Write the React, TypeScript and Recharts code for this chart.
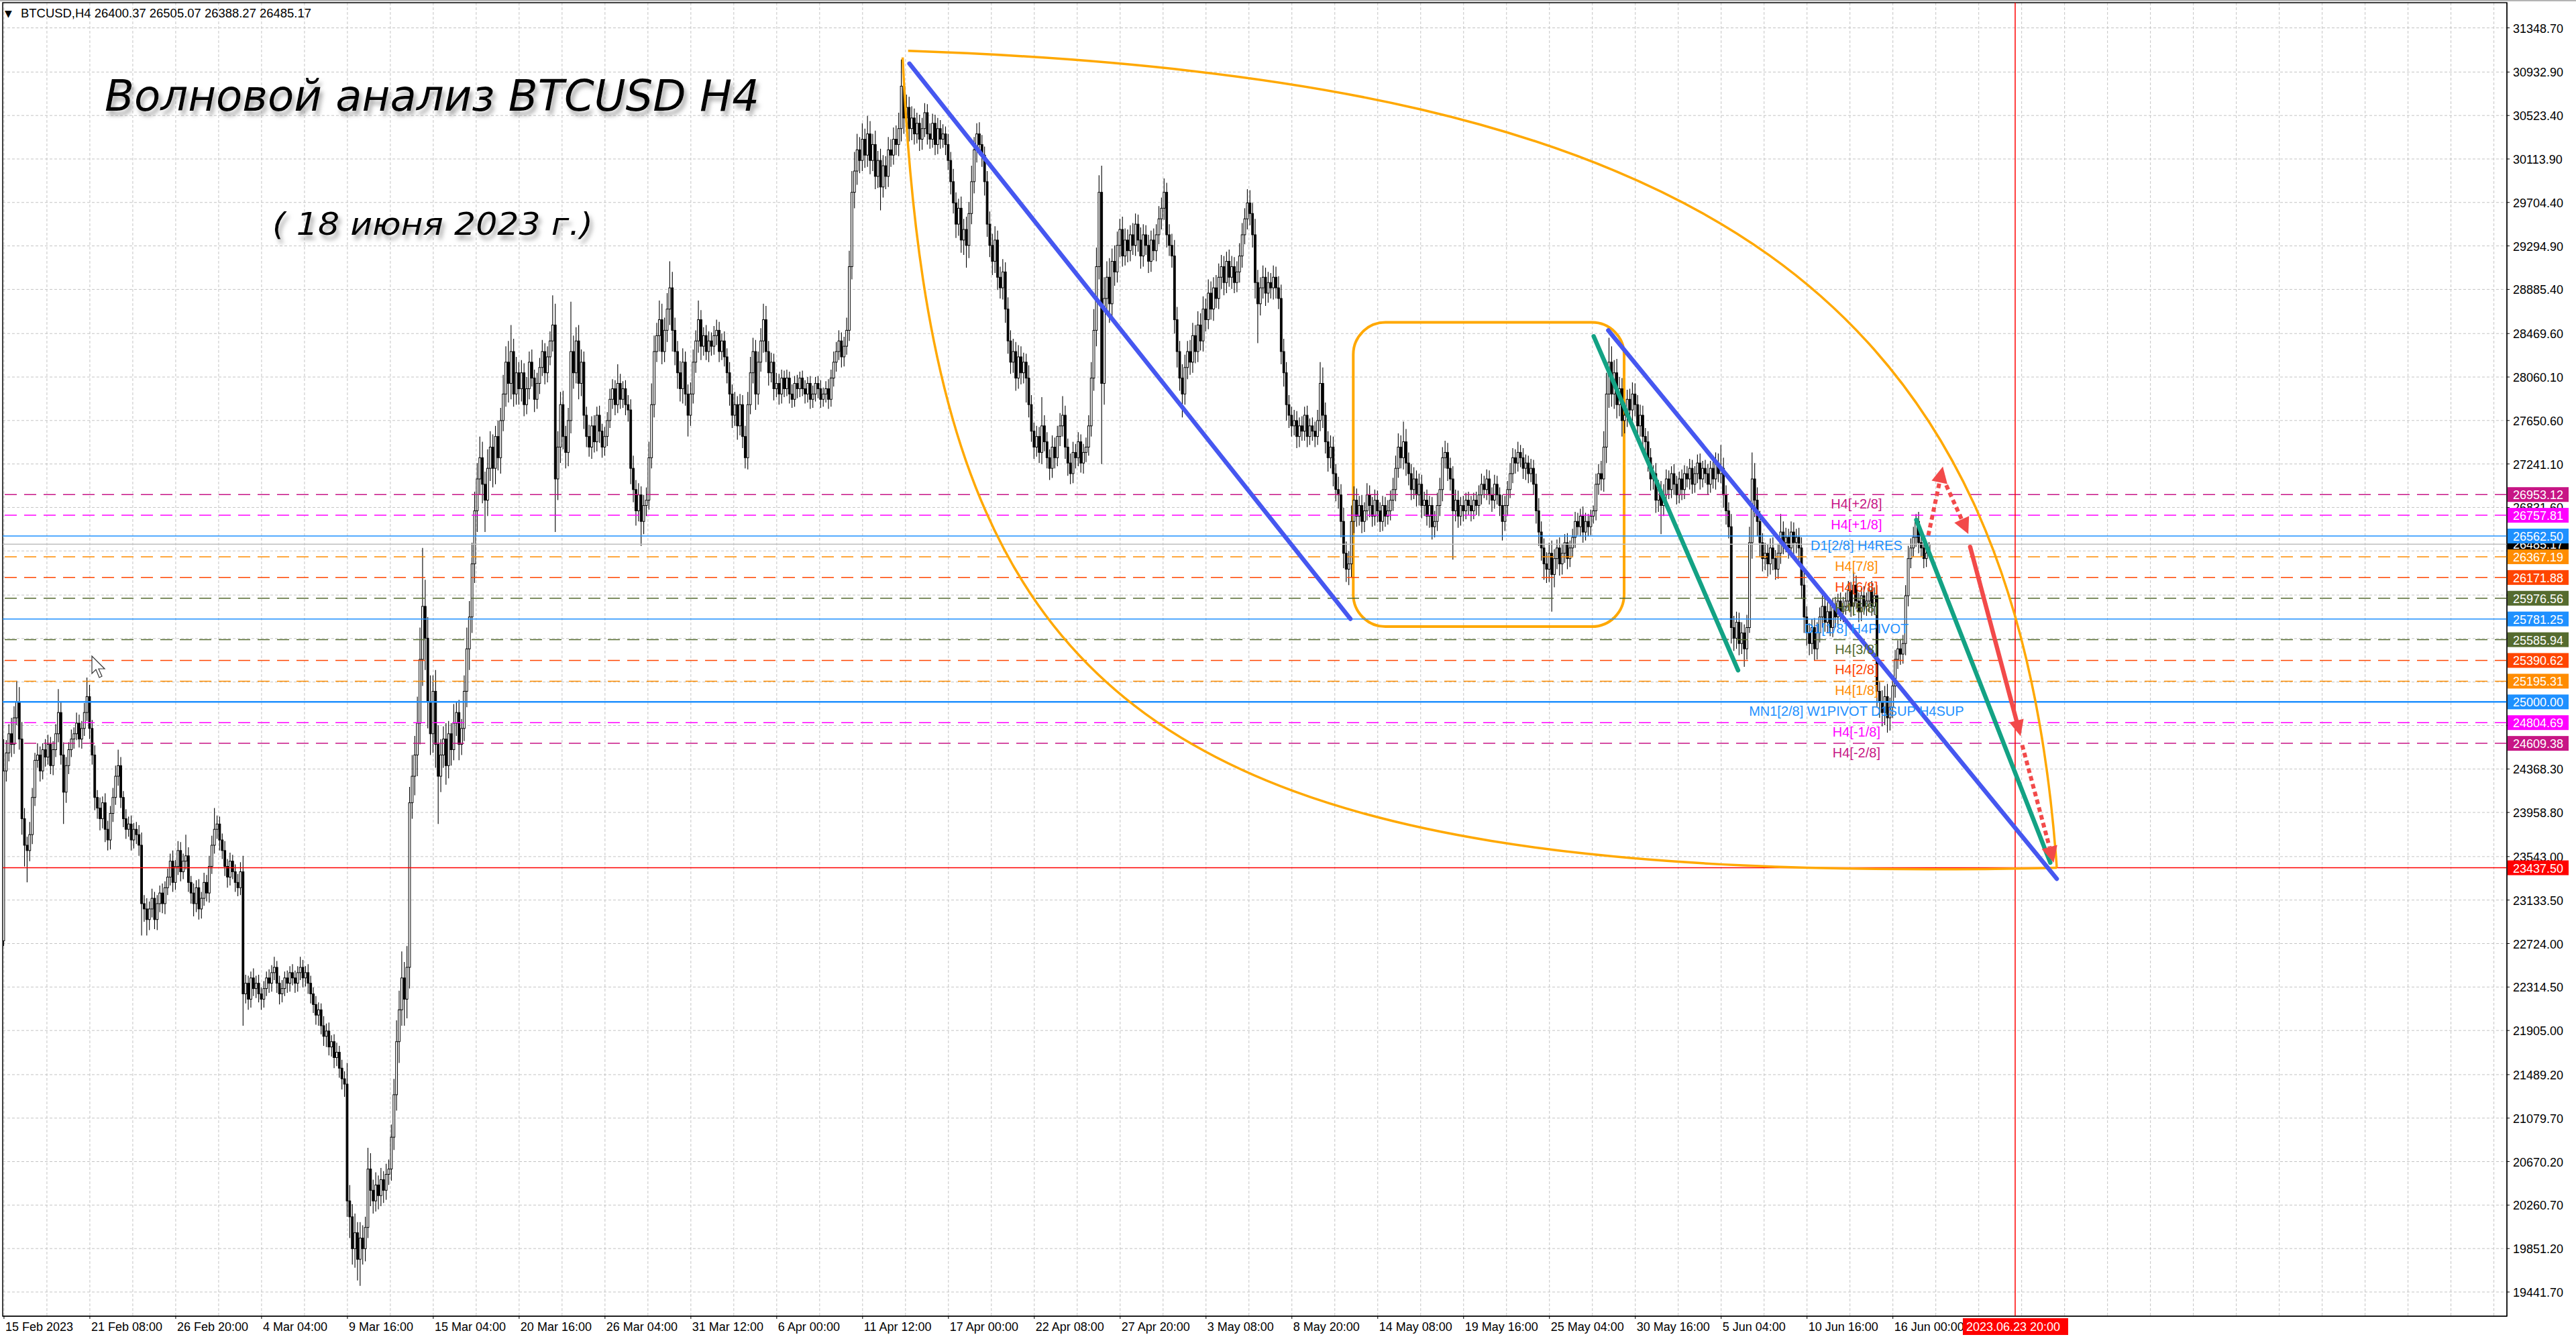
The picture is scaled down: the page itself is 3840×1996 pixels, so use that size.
import React from 'react';
import {
  ComposedChart,
  Bar,
  XAxis,
  YAxis,
  CartesianGrid,
  ReferenceLine,
  ReferenceArea,
  ReferenceDot,
} from 'recharts';

const W = 3840;
const H = 1996;
const FONT = '"Liberation Sans", Arial, sans-serif';

// H4 candles from 15 Feb 2023 20:00, each bar opens at the previous close
const firstOpen = 22750;
const closes = [
  24350, 24520, 24700, 24600, 24850, 25000, 24650, 23900, 23650, 23600,
  23750, 24100, 24450, 24500, 24350, 24550, 24480, 24600, 24400, 24550,
  24700, 24900, 24500, 24150, 24400, 24550, 24650, 24700, 24800, 24650,
  24750, 24900, 25050, 24750, 24500, 24100, 24000, 23900, 24050, 23800,
  23700, 23950, 24100, 24300, 24400, 24100, 23900, 23800, 23850, 23700,
  23800, 23750, 23650, 23100, 23050, 22950, 23050, 23150, 22950, 23100,
  23200, 23100, 23250, 23350, 23500, 23300, 23450, 23600, 23400, 23500,
  23550, 23300, 23200, 23100, 23250, 23050, 23150, 23300, 23200, 23450,
  23650, 23800, 23850, 23700, 23600, 23450, 23350, 23500, 23400, 23300,
  23250, 23400, 22250, 22350, 22200, 22400, 22300, 22350, 22250, 22200,
  22300, 22400, 22350, 22450, 22500, 22350, 22250, 22300, 22400, 22350,
  22450, 22400, 22350, 22450, 22500, 22400, 22450, 22350, 22250, 22150,
  22050, 22100, 21950, 21850, 21900, 21750, 21800, 21650, 21700, 21550,
  21450, 21400, 20300, 20150, 19850, 20000, 19750, 19950, 19850, 20050,
  20600, 20400, 20300, 20450, 20350, 20500, 20400, 20550, 20600, 20900,
  21300, 21800, 22100, 22400, 22200, 22500, 24050, 24300, 24500, 24800,
  25400, 25900, 25600, 25000, 24700, 25100, 24600, 24300, 24500, 24650,
  24400, 24700, 24550, 24800, 24900, 24600, 24750, 25100, 25500, 25800,
  26300, 26800, 27100, 27300, 27050, 26900, 27200, 27400, 27200, 27500,
  27300, 27650, 27900, 28200, 28000, 28300, 27900, 28100, 27950, 28100,
  27800, 27950, 28200, 28050, 27850, 28000, 28150, 28300, 28100, 28250,
  28400, 28550, 27100, 27400, 27800, 27500, 27350, 27650, 28300, 28100,
  28400, 28000, 28200, 27700, 27500, 27400, 27600, 27450, 27700, 27550,
  27400, 27500, 27650, 27850, 27950, 27800, 28000, 27850, 27950, 27800,
  27750, 27200, 27000, 26800, 26950, 26700, 26850, 26900, 27300, 27800,
  28300, 28450, 28600, 28300, 28500, 28700, 28900, 28500, 28300, 28100,
  27950, 28200, 27900, 27700, 27900, 28200, 28400, 28600, 28350, 28450,
  28300, 28400, 28350, 28450, 28500, 28300, 28400, 28250, 28100, 27900,
  27700, 27800, 27600, 27800, 27500, 27300, 27800, 28100, 28300, 27900,
  28200, 28400, 28600, 28300, 28100, 28200, 27950, 28000, 27900, 28050,
  27950, 28050, 27900, 27850, 28000, 27950, 28050, 27950, 27900, 28000,
  27850, 27900, 28000, 27950, 27850, 27900, 27950, 27850, 28050, 28200,
  28300, 28400, 28250, 28350, 28500, 29100, 29800, 30000, 30200, 30100,
  30300, 30150, 30350, 30100, 30250, 29950, 30100, 29850, 30050, 29950,
  30200, 30150, 30300, 30250, 30400, 30800, 30500, 30600, 30400, 30500,
  30350, 30450, 30300, 30400, 30550, 30350, 30300, 30450, 30250, 30400,
  30300, 30350, 30250, 30100, 29900, 29700, 29500, 29650, 29350, 29450,
  29300, 29600, 29900, 30200, 30350, 30250, 30150, 29900, 29500, 29300,
  29150, 29350, 29000, 28900, 29050, 28700, 28400, 28200, 28300, 28050,
  28250, 28100, 28200, 28050, 27800, 27550, 27400, 27500, 27350, 27600,
  27450, 27300, 27200, 27400, 27300, 27500, 27600, 27700, 27400, 27250,
  27150, 27350, 27300, 27450, 27250, 27350, 27400, 27600, 28050, 28500,
  29100, 29800, 28000, 28800, 29000, 28750, 29150, 29050, 29300, 29450,
  29200, 29350, 29250, 29400, 29300, 29500, 29350, 29200, 29400, 29300,
  29150, 29350, 29250, 29400, 29550, 29650, 29800, 29400, 29300, 29200,
  28600, 28300, 28050, 27900, 28150, 28300, 28200, 28450, 28300, 28550,
  28400, 28700, 28600, 28850, 28700, 28900, 28800, 29000, 29100, 28950,
  29150, 29000, 29100, 28950, 29050, 29200, 29400, 29550, 29700, 29600,
  29400, 28950, 28750, 28900, 29000, 28850, 28950, 28900, 29000, 28900,
  28800, 28300, 28100, 27800, 27700, 27600, 27650, 27500, 27600, 27550,
  27700, 27500, 27600, 27550, 27500, 27650, 28000, 27700, 27450, 27300,
  27400, 27150, 27000, 26950, 26700, 26400, 26250, 26300, 26700, 26900,
  26750, 26850, 26700, 26800, 26950, 26850, 26750, 26900, 26800, 26700,
  26850, 26750, 26800, 26900, 27000, 27200, 27400, 27300, 27450, 27250,
  27150, 27000, 27100, 26950, 27050, 26850, 26900, 26750, 26850, 26650,
  26700, 26850, 27000, 27300, 27350, 27200, 27100, 26800, 26900, 26750,
  26850, 26800, 26900, 26850, 26800, 26900, 26850, 26950, 27050, 27000,
  27100, 26950, 26900, 27050, 26950, 26850, 26700, 26850, 27000, 27150,
  27300, 27250, 27350, 27300, 27200, 27250, 27150, 27200, 27050, 26800,
  26600, 26450, 26300, 26250, 26400, 26200, 26350, 26450, 26300, 26400,
  26500, 26350, 26450, 26550, 26700, 26650, 26750, 26600, 26700, 26650,
  26750, 26800, 27050, 27150, 27100, 27400, 27900, 28200, 27900, 28100,
  27800, 27950, 27650, 27700, 27850, 27750, 27900, 27800, 27600, 27700,
  27500, 27450, 27300, 27100, 27150, 26900, 27000, 26850, 26950, 27100,
  27000, 27150, 27050, 26950, 27100, 27000, 27150, 27100, 27200, 27050,
  27150, 27250, 27100, 27200, 27150, 27050, 27200, 27100, 27250, 27150,
  27200, 26950, 26800, 26650, 25700, 25600, 25750, 25550, 25650, 25500,
  25700, 26500, 27100, 26900, 26700, 26500, 26350, 26400, 26300, 26450,
  26350, 26250, 26400, 26600, 26500, 26550, 26450, 26600, 26500, 26550,
  26450, 26100, 25800, 25650, 25550, 25700, 25500, 25650, 25800, 25900,
  25750, 25850, 25700, 25900, 25800, 25950, 25850, 25900, 25950, 26050,
  25900, 26100, 25950, 25850, 26000, 25900, 25950, 26050, 25900, 26000,
  25100, 25000, 24900, 25050, 24850, 24950, 25150, 25400, 25500, 25450,
  25550, 26000, 26350, 26450, 26550, 26700, 26500, 26450, 26350, 26400.37,
  26485.17,
];
const upWick = [
  300, 120, 90, 150, 110, 200, 140, 160, 100, 80,
  120, 90, 70, 110, 80, 60, 100, 90, 70, 80,
  90, 220, 100, 120, 80, 70, 90, 60, 100, 80,
  70, 90, 180, 110, 80, 90, 70, 100, 60, 90,
  80, 70, 90, 100, 150, 80, 60, 90, 70, 80,
  60, 70, 90, 120, 80, 100, 70, 90, 60, 80,
  70, 90, 60, 80, 70, 100, 60, 90, 80, 70,
  200, 80, 60, 90, 70, 80, 60, 90, 70, 100,
  90, 200, 80, 70, 60, 90, 70, 80, 60, 70,
  80, 90, 150, 80, 70, 60, 90, 70, 80, 60,
  70, 60, 80, 70, 100, 60, 70, 80, 60, 70,
  60, 80, 70, 60, 100, 70, 60, 80, 70, 60,
  80, 70, 60, 90, 70, 80, 60, 70, 90, 60,
  80, 70, 200, 150, 120, 180, 100, 150, 120, 100,
  200, 150, 100, 120, 90, 110, 80, 100, 90, 120,
  150, 200, 180, 250, 150, 200, 150, 200, 180, 250,
  300, 550, 250, 200, 250, 150, 200, 180, 150, 120,
  150, 120, 100, 180, 100, 120, 90, 150, 200, 150,
  200, 180, 150, 200, 150, 120, 180, 150, 120, 100,
  150, 120, 180, 150, 200, 250, 120, 150, 100, 120,
  90, 110, 100, 120, 80, 100, 90, 110, 80, 100,
  90, 280, 200, 150, 120, 130, 100, 120, 470, 150,
  130, 150, 120, 100, 80, 110, 90, 100, 80, 90,
  70, 90, 80, 100, 90, 80, 180, 90, 70, 80,
  90, 100, 120, 90, 110, 80, 100, 120, 150, 200,
  150, 120, 180, 150, 120, 150, 250, 150, 120, 100,
  110, 130, 100, 90, 110, 120, 100, 180, 90, 80,
  100, 90, 80, 90, 100, 80, 70, 90, 80, 100,
  90, 120, 80, 100, 90, 100, 120, 150, 130, 110,
  100, 120, 150, 130, 100, 90, 80, 100, 90, 80,
  70, 80, 60, 90, 70, 80, 60, 70, 80, 60,
  70, 80, 60, 70, 80, 60, 70, 90, 80, 100,
  90, 100, 80, 90, 120, 150, 200, 180, 150, 120,
  150, 100, 170, 120, 100, 130, 90, 110, 100, 90,
  120, 100, 110, 130, 150, 250, 150, 120, 100, 110,
  90, 100, 80, 100, 90, 80, 100, 90, 80, 100,
  80, 90, 70, 100, 80, 120, 100, 90, 110, 100,
  120, 110, 150, 120, 100, 110, 90, 80, 100, 120,
  110, 130, 90, 100, 120, 90, 110, 100, 120, 90,
  110, 100, 90, 80, 120, 90, 80, 100, 90, 270,
  100, 90, 80, 110, 90, 100, 120, 180, 90, 80,
  90, 100, 80, 90, 70, 80, 90, 100, 150, 200,
  180, 160, 250, 200, 150, 180, 120, 150, 130, 100,
  120, 110, 100, 90, 110, 100, 90, 120, 100, 90,
  100, 90, 110, 100, 120, 100, 130, 90, 100, 110,
  150, 120, 100, 130, 120, 100, 110, 120, 100, 130,
  110, 120, 100, 130, 110, 100, 120, 130, 110, 100,
  90, 110, 100, 90, 100, 120, 110, 100, 130, 120,
  100, 150, 120, 100, 110, 90, 100, 90, 110, 100,
  110, 130, 120, 100, 90, 80, 100, 90, 80, 90,
  80, 90, 70, 80, 90, 100, 200, 150, 120, 100,
  110, 100, 90, 120, 100, 130, 110, 120, 150, 130,
  110, 90, 100, 80, 110, 90, 80, 100, 90, 80,
  90, 80, 100, 90, 110, 120, 130, 110, 190, 120,
  100, 90, 110, 80, 100, 90, 80, 100, 90, 80,
  100, 120, 110, 100, 110, 90, 100, 120, 100, 90,
  80, 90, 70, 80, 90, 70, 80, 90, 100, 80,
  90, 80, 70, 90, 80, 70, 100, 90, 80, 100,
  90, 80, 100, 70, 90, 80, 70, 90, 80, 100,
  120, 100, 90, 110, 100, 120, 90, 80, 100, 90,
  80, 90, 70, 80, 90, 80, 70, 90, 80, 70,
  60, 50, 100, 90, 120, 150, 200, 230, 150, 120,
  130, 110, 100, 120, 90, 100, 110, 100, 90, 100,
  90, 80, 100, 90, 80, 100, 90, 80, 100, 90,
  80, 70, 90, 80, 70, 90, 80, 70, 90, 80,
  70, 80, 90, 70, 80, 90, 70, 80, 100, 90,
  220, 100, 90, 80, 120, 110, 100, 90, 100, 80,
  120, 150, 250, 150, 120, 100, 90, 100, 80, 90,
  100, 80, 90, 170, 100, 90, 80, 100, 90, 80,
  90, 100, 120, 100, 90, 80, 90, 100, 90, 100,
  80, 90, 70, 80, 90, 70, 80, 90, 80, 90,
  80, 130, 90, 80, 70, 90, 80, 70, 90, 80,
  100, 90, 110, 100, 120, 90, 100, 90, 80, 90,
  80, 100, 120, 90, 100, 70, 90, 80, 70, 80,
  19.9,
];
const downWick = [
  50, 100, 80, 120, 90, 70, 100, 150, 200, 300,
  100, 90, 80, 70, 100, 80, 90, 70, 80, 90,
  70, 80, 90, 300, 100, 80, 70, 90, 60, 80,
  90, 70, 80, 100, 90, 120, 100, 110, 90, 120,
  100, 90, 80, 70, 90, 100, 80, 90, 70, 100,
  80, 90, 100, 300, 120, 150, 100, 80, 90, 100,
  80, 90, 100, 70, 80, 90, 70, 80, 90, 70,
  80, 90, 100, 120, 80, 100, 90, 70, 80, 90,
  70, 80, 90, 100, 80, 90, 100, 80, 70, 90,
  80, 70, 300, 90, 100, 80, 70, 90, 80, 100,
  80, 70, 90, 80, 70, 90, 100, 80, 70, 90,
  80, 70, 90, 80, 70, 90, 80, 100, 90, 80,
  90, 100, 80, 90, 100, 80, 90, 100, 80, 90,
  100, 120, 150, 200, 150, 180, 200, 250, 150, 120,
  100, 150, 120, 100, 130, 100, 120, 90, 100, 110,
  120, 150, 200, 150, 250, 180, 200, 150, 180, 200,
  200, 250, 300, 250, 200, 180, 220, 450, 150, 120,
  180, 120, 150, 100, 120, 150, 100, 120, 150, 200,
  150, 180, 200, 150, 180, 300, 150, 120, 180, 150,
  120, 150, 100, 120, 180, 150, 120, 100, 150, 120,
  110, 90, 100, 80, 120, 90, 100, 80, 110, 90,
  80, 100, 500, 200, 150, 120, 150, 130, 120, 150,
  100, 150, 120, 130, 100, 90, 110, 100, 90, 110,
  100, 80, 90, 70, 90, 100, 80, 90, 80, 100,
  110, 150, 120, 140, 100, 230, 120, 100, 90, 100,
  120, 100, 150, 120, 100, 110, 150, 200, 130, 150,
  120, 140, 110, 200, 100, 90, 100, 110, 130, 90,
  80, 100, 90, 80, 90, 100, 80, 90, 100, 110,
  120, 100, 130, 90, 110, 100, 110, 90, 100, 150,
  100, 90, 110, 100, 120, 90, 110, 80, 100, 90,
  80, 70, 90, 80, 70, 90, 80, 70, 90, 80,
  90, 80, 70, 90, 80, 70, 80, 90, 70, 80,
  90, 80, 100, 90, 80, 100, 120, 150, 130, 120,
  100, 120, 110, 130, 100, 120, 110, 220, 100, 120,
  100, 110, 90, 100, 110, 120, 150, 100, 120, 110,
  100, 90, 110, 100, 80, 100, 90, 80, 100, 90,
  90, 80, 100, 90, 120, 100, 130, 110, 120, 140,
  210, 120, 100, 110, 120, 100, 110, 130, 120, 110,
  130, 110, 120, 100, 110, 130, 120, 110, 100, 120,
  100, 110, 100, 230, 120, 100, 110, 90, 100, 110,
  90, 100, 110, 90, 100, 80, 90, 100, 110, 120,
  100, 90, 100, 80, 90, 100, 90, 80, 100, 120,
  150, 120, 760, 200, 150, 180, 120, 130, 100, 110,
  100, 90, 110, 100, 90, 100, 110, 120, 100, 90,
  110, 100, 90, 100, 90, 100, 110, 120, 100, 110,
  130, 150, 120, 220, 100, 110, 120, 100, 110, 100,
  90, 100, 110, 90, 100, 110, 90, 100, 110, 120,
  100, 90, 110, 100, 90, 100, 110, 90, 100, 110,
  120, 150, 370, 110, 100, 120, 90, 100, 110, 100,
  100, 120, 130, 150, 120, 100, 90, 110, 100, 90,
  90, 100, 80, 90, 100, 80, 100, 120, 110, 130,
  100, 120, 110, 130, 150, 140, 120, 150, 130, 110,
  100, 90, 110, 100, 90, 110, 100, 90, 110, 100,
  90, 100, 80, 90, 100, 110, 90, 100, 110, 120,
  110, 100, 90, 110, 100, 120, 100, 90, 110, 120,
  100, 90, 100, 110, 100, 120, 110, 460, 100, 110,
  90, 100, 80, 90, 100, 80, 90, 100, 90, 80,
  100, 90, 110, 80, 90, 100, 180, 90, 100, 80,
  90, 100, 80, 90, 100, 110, 90, 80, 100, 120,
  130, 120, 150, 130, 120, 350, 120, 100, 110, 100,
  90, 100, 80, 90, 100, 80, 90, 100, 80, 90,
  80, 70, 90, 100, 110, 120, 150, 130, 120, 140,
  130, 110, 150, 120, 110, 100, 120, 110, 130, 100,
  110, 120, 130, 110, 100, 120, 110, 270, 100, 90,
  90, 80, 100, 90, 80, 100, 90, 80, 100, 90,
  80, 90, 100, 80, 90, 100, 80, 90, 100, 80,
  90, 120, 130, 110, 150, 120, 100, 110, 100, 170,
  100, 50, 150, 160, 140, 130, 120, 110, 120, 100,
  110, 100, 90, 100, 110, 90, 100, 90, 110, 100,
  110, 130, 150, 120, 110, 100, 110, 100, 90, 100,
  90, 100, 80, 90, 100, 80, 90, 100, 80, 90,
  100, 90, 80, 100, 90, 80, 90, 100, 90, 80,
  150, 150, 130, 120, 140, 120, 100, 110, 90, 100,
  90, 110, 100, 90, 80, 90, 100, 80, 90, 80,
  12.1,
];

// time axis: one label every 33 bars
const timeLabels = [
  '15 Feb 2023', '21 Feb 08:00', '26 Feb 20:00', '4 Mar 04:00', '9 Mar 16:00',
  '15 Mar 04:00', '20 Mar 16:00', '26 Mar 04:00', '31 Mar 12:00', '6 Apr 00:00',
  '11 Apr 12:00', '17 Apr 00:00', '22 Apr 08:00', '27 Apr 20:00', '3 May 08:00',
  '8 May 20:00', '14 May 08:00', '19 May 16:00', '25 May 04:00', '30 May 16:00',
  '5 Jun 04:00', '10 Jun 16:00', '16 Jun 00:00',
];
const futureBar = 773;
const futureLabel = '2023.06.23 20:00';

const priceTicks = [
  31348.7, 30932.9, 30523.4, 30113.9, 29704.4, 29294.9, 28885.4, 28469.6, 28060.1,
  27650.6, 27241.1, 26831.6, 26422.1, 26006.3, 25596.8, 25187.3, 24777.8, 24368.3,
  23958.8, 23543.0, 23133.5, 22724.0, 22314.5, 21905.0, 21489.2, 21079.7, 20670.2,
  20260.7, 19851.2, 19441.7,
];

// Murrey math levels
const levelValues = [
  26953.12, 26757.81, 26562.5, 26367.19, 26171.88, 25976.56, 25781.25,
  25585.94, 25390.62, 25195.31, 25000.0, 24804.69, 24609.38,
];
const levelNames = [
  'H4[+2/8]', 'H4[+1/8]', 'D1[2/8] H4RES', 'H4[7/8]', 'H4[6/8]', 'H4[5/8]',
  'D1[1/8] H4PIVOT', 'H4[3/8]', 'H4[2/8]', 'H4[1/8]', 'MN1[2/8] W1PIVOT D1SUP H4SUP',
  'H4[-1/8]', 'H4[-2/8]',
];
const levelColors = [
  '#C71585', '#FF00FF', '#1E90FF', '#FF8C00', '#FF4500', '#556B2F', '#1E90FF',
  '#556B2F', '#FF4500', '#FF8C00', '#1E90FF', '#FF00FF', '#C71585',
];
const levelLabelBar = 712;
const currentPrice = 26485.17;
const targetPrice = 23437.5;

// drawn objects, in (bar, price)
const blueLines = [
  [{ x: 348, y: 31012 }, { x: 517.5, y: 25782 }],
  [{ x: 616.6, y: 28500 }, { x: 789, y: 23334 }],
];
const greenLines = [
  [{ x: 611, y: 28444 }, { x: 666.5, y: 25298 }],
  [{ x: 735, y: 26714 }, { x: 786.5, y: 23486 }],
];
const redArrow = [{ x: 755.7, y: 26460 }, { x: 775.1, y: 24677 }];
const redDotted = [
  [{ x: 739.6, y: 26568 }, { x: 745.2, y: 27216 }],
  [{ x: 746.5, y: 27041 }, { x: 755, y: 26581 }],
  [{ x: 775.7, y: 24593 }, { x: 787.8, y: 23486 }],
];
const upperArc = [{ x: 347.5, y: 31132 }, { x: 789, y: 23437.5 }];
const lowerArc = [{ x: 345.4, y: 31070 }, { x: 789, y: 23437.5 }];
const boxBars = [518.6, 622.7];
const boxPrices = [25709, 28575];

const X_DOMAIN = [-0.5, 962];
const Y_DOMAIN = [19214, 31586];

const rows = closes.map((c, i) => {
  const o = i === 0 ? firstOpen : closes[i - 1];
  const h = Math.max(o, c) + upWick[i];
  const l = Math.min(o, c) - downWick[i];
  return { i, o, c, h, l, range: [l, h] };
});

const tagColor = new Map<number, string>([
  [currentPrice, '#000000'],
  ...levelValues.map((v, k) => [v, levelColors[k]] as [number, string]),
  [targetPrice, '#FF0000'],
]);
const gridBars = Array.from({ length: 59 }, (_, k) => k * 16.5);
const labelBars = timeLabels.map((_, k) => k * 33);

function Candle(props: any) {
  const { x, y, width, height, payload } = props;
  if (!payload || x == null) return null;
  const { o, c, h, l } = payload;
  const cx = x + width / 2;
  const top = Math.min(y, y + height);
  const bot = Math.max(y, y + height);
  const k = (bot - top) / (h - l || 1);
  const yo = top + (h - o) * k;
  const yc = top + (h - c) * k;
  const bt = Math.min(yo, yc);
  const bh = Math.max(Math.abs(yo - yc), 1);
  return (
    <g>
      <line x1={cx} x2={cx} y1={top} y2={bot} stroke="#000" strokeWidth={1.1} />
      <rect x={cx - 1.4} y={bt} width={2.8} height={bh} fill={c >= o ? '#fff' : '#000'} stroke="#000" strokeWidth={1} />
    </g>
  );
}

function XTick(props: any) {
  const { x, y, payload } = props;
  const v = payload.value;
  if (v === futureBar) {
    return (
      <g>
        <rect x={x - 78} y={y + 3} width={157} height={25} fill="#FF0000" />
        <text x={x - 73} y={y + 22} fill="#fff" fontSize={18} fontFamily={FONT}>{futureLabel}</text>
      </g>
    );
  }
  const k = labelBars.indexOf(v);
  if (k < 0) return null;
  return (
    <g>
      <line x1={x} x2={x} y1={y} y2={y + 4} stroke="#000" />
      <text x={x + 2} y={y + 22} fill="#000" fontSize={18} fontFamily={FONT}>{timeLabels[k]}</text>
    </g>
  );
}

function YTick(props: any) {
  const { x, y, payload } = props;
  const v = payload.value;
  const col = tagColor.get(v);
  if (col) {
    return (
      <g>
        <rect x={x + 1} y={y - 11} width={91} height={22} fill={col} />
        <text x={x + 9} y={y + 7} fill="#fff" fontSize={18} fontFamily={FONT}>{v.toFixed(2)}</text>
      </g>
    );
  }
  return (
    <g>
      <line x1={x} x2={x + 4} y1={y} y2={y} stroke="#000" />
      <text x={x + 9} y={y + 7} fill="#000" fontSize={18} fontFamily={FONT}>{v.toFixed(2)}</text>
    </g>
  );
}

function plainLine(color: string, width: number) {
  return (p: any) => (
    <line x1={p.x1} y1={p.y1} x2={p.x2} y2={p.y2} stroke={color} strokeWidth={width} strokeLinecap="round" />
  );
}

function arrowLine(color: string, width: number, dash: string | undefined, len: number, half: number) {
  return (p: any) => {
    const a = Math.atan2(p.y2 - p.y1, p.x2 - p.x1);
    const bx = p.x2 - len * Math.cos(a);
    const by = p.y2 - len * Math.sin(a);
    const s = Math.sin(a);
    const c = Math.cos(a);
    const pts = `${p.x2},${p.y2} ${bx + half * s},${by - half * c} ${bx - half * s},${by + half * c}`;
    return (
      <g>
        <line
          x1={p.x1}
          y1={p.y1}
          x2={bx}
          y2={by}
          stroke={color}
          strokeWidth={width}
          strokeDasharray={dash}
          strokeLinecap={dash ? 'butt' : 'round'}
        />
        <polygon points={pts} fill={color} />
      </g>
    );
  };
}

function arcShape(upper: boolean) {
  return (p: any) => {
    const dx = p.x2 - p.x1;
    const dy = p.y2 - p.y1;
    const c1 = upper ? [p.x1 + 0.7 * dx, p.y1 + 0.033 * dy] : [p.x1 + 0.026 * dx, p.y1 + 0.8 * dy];
    const c2 = upper ? [p.x2 - 0.035 * dx, p.y2 - 0.7 * dy] : [p.x2 - 0.8 * dx, p.y2 + 0.025 * dy];
    const d = `M${p.x1},${p.y1} C${c1[0]},${c1[1]} ${c2[0]},${c2[1]} ${p.x2},${p.y2}`;
    return <path d={d} fill="none" stroke="#FFA800" strokeWidth={3.5} />;
  };
}

const boxShape = (p: any) => (
  <rect x={p.x} y={p.y} width={p.width} height={p.height} rx={48} fill="none" stroke="#FFA800" strokeWidth={4} />
);
const frameShape = (p: any) => (
  <rect x={p.x} y={p.y} width={p.width} height={p.height} fill="none" stroke="#000" strokeWidth={1.5} />
);

function levelText(name: string, color: string) {
  return (p: any) => (
    <text x={p.cx} y={p.cy + 21} textAnchor="middle" fill={color} fontSize={20} fontFamily={FONT}>{name}</text>
  );
}

export default function App() {
  return (
    <div style={{ position: 'absolute', left: 0, top: 0, width: W, height: H, background: '#fff', overflow: 'hidden' }}>
      <ComposedChart width={W} height={H} data={rows} margin={{ top: 4, right: 0, bottom: 0, left: 4 }}>
        <CartesianGrid
          stroke="#c4c4c4"
          strokeDasharray="4 3"
          verticalValues={gridBars}
          horizontalValues={priceTicks}
        />
        <XAxis
          type="number"
          dataKey="i"
          domain={X_DOMAIN}
          allowDataOverflow
          ticks={[...labelBars, futureBar]}
          interval={0}
          tick={<XTick />}
          tickLine={false}
          tickSize={0}
          tickMargin={0}
          height={34}
          axisLine={{ stroke: '#000' }}
        />
        <YAxis
          type="number"
          orientation="right"
          domain={Y_DOMAIN}
          allowDataOverflow
          ticks={[...priceTicks, currentPrice, ...levelValues, targetPrice]}
          interval={0}
          tick={<YTick />}
          tickLine={false}
          tickSize={0}
          tickMargin={0}
          width={103}
          axisLine={{ stroke: '#000' }}
        />
        <ReferenceArea x1={X_DOMAIN[0]} x2={X_DOMAIN[1]} y1={Y_DOMAIN[0]} y2={Y_DOMAIN[1]} shape={frameShape} ifOverflow="visible" />
        <ReferenceLine y={currentPrice} stroke="#c0c0c0" strokeWidth={1.5} />
        {levelValues.map((v, k) => (
          <ReferenceLine
            key={`lv${k}`}
            y={v}
            stroke={levelColors[k]}
            strokeWidth={v === 25000 ? 2.5 : 1.5}
            strokeDasharray={levelColors[k] === '#1E90FF' ? undefined : '18 11'}
          />
        ))}
        <ReferenceLine y={targetPrice} stroke="#FF0000" strokeWidth={1.5} />
        <ReferenceLine x={futureBar} stroke="#FF0000" strokeWidth={1.5} />
        {levelValues.map((v, k) => (
          <ReferenceDot key={`lt${k}`} x={levelLabelBar} y={v} r={0} shape={levelText(levelNames[k], levelColors[k])} />
        ))}
        <Bar dataKey="range" barSize={3} isAnimationActive={false} shape={Candle} />
        <ReferenceArea x1={boxBars[0]} x2={boxBars[1]} y1={boxPrices[0]} y2={boxPrices[1]} shape={boxShape} />
        <ReferenceLine segment={upperArc} shape={arcShape(true)} />
        <ReferenceLine segment={lowerArc} shape={arcShape(false)} />
        {blueLines.map((s, k) => (
          <ReferenceLine key={`bl${k}`} segment={s} shape={plainLine('#4657F0', 6.5)} />
        ))}
        {greenLines.map((s, k) => (
          <ReferenceLine key={`gl${k}`} segment={s} shape={plainLine('#13A284', 6.5)} />
        ))}
        <ReferenceLine segment={redArrow} shape={arrowLine('#F24A4A', 6.5, undefined, 24, 11)} />
        {redDotted.map((s, k) => (
          <ReferenceLine key={`rd${k}`} segment={s} shape={arrowLine('#F24A4A', 6, '7 5', 24, 12)} />
        ))}
      </ComposedChart>
      <svg width={W} height={1100} style={{ position: 'absolute', left: 0, top: 0, pointerEvents: 'none' }}>
        <defs>
          <filter id="shadow" x="-5%" y="-20%" width="110%" height="150%">
            <feDropShadow dx="4" dy="7" stdDeviation="3" floodColor="#888" floodOpacity="0.7" />
          </filter>
        </defs>
        <rect x={0} y={0} width={W} height={2} fill="#b4b4b4" />
        <text x={7} y={25} fontSize={14} fontFamily={'"DejaVu Sans", sans-serif'} fill="#000">▼</text>
        <text x={31} y={26} fontSize={18} fontFamily={FONT} fill="#000" textLength={433} lengthAdjust="spacingAndGlyphs">
          BTCUSD,H4  26400.37 26505.07 26388.27 26485.17
        </text>
        <text
          x={156}
          y={165}
          fontSize={64}
          fontStyle="italic"
          fontFamily={'"DejaVu Sans Condensed", "DejaVu Sans", sans-serif'}
          fill="#000"
          textLength={976}
          lengthAdjust="spacingAndGlyphs"
          filter="url(#shadow)"
        >
          Волновой анализ BTCUSD H4
        </text>
        <text
          x={406}
          y={350}
          fontSize={46}
          fontStyle="italic"
          fontFamily={'"DejaVu Sans Condensed", "DejaVu Sans", sans-serif'}
          fill="#000"
          textLength={478}
          lengthAdjust="spacingAndGlyphs"
          filter="url(#shadow)"
        >
          ( 18 июня 2023 г.)
        </text>
        <path
          d="M137,978 L137,1004 L143,998 L148,1010 L152,1008 L147,997 L156,997 Z"
          fill="#fff"
          stroke="#333"
          strokeWidth={1.2}
        />
      </svg>
    </div>
  );
}
